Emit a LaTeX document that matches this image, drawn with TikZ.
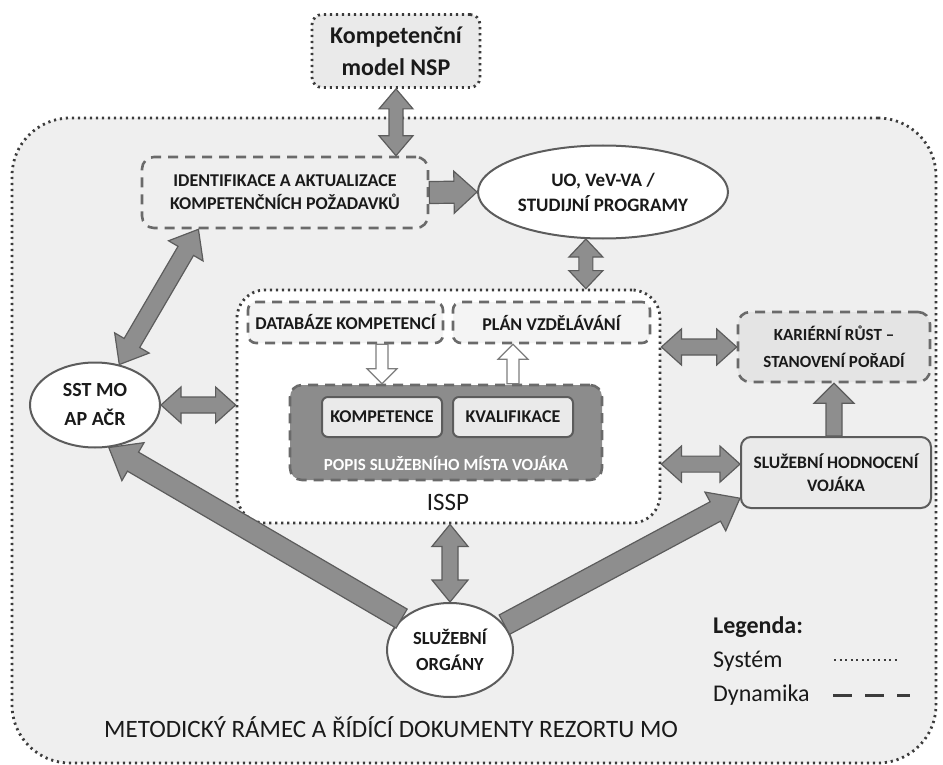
\documentclass[tikz,border=0pt]{standalone}
\usepackage{fontspec}
\setmainfont{Carlito}
\usetikzlibrary{calc,shapes.geometric}
\definecolor{bgc}{HTML}{EFEFEF}
\definecolor{boxg}{HTML}{EAEAEA}
\definecolor{karg}{HTML}{E4E4E4}
\definecolor{dbg}{HTML}{F4F4F4}
\definecolor{popg}{HTML}{8C8C8C}
\definecolor{arrf}{HTML}{8E8E8E}
\definecolor{arrd}{HTML}{5C5C5C}
\definecolor{lnc}{HTML}{3C3C3C}
\definecolor{dsc}{HTML}{6A6A6A}
\definecolor{txc}{HTML}{1A1A1A}

\newcommand\DArrow[6][garrow]{%
 \coordinate (aS) at (#2); \coordinate (aE) at (#3);
 \coordinate (aH1) at ($(aS)!#6!(aE)$);
 \coordinate (aH2) at ($(aE)!#6!(aS)$);
 \path[#1] (aS) -- ($(aH1)!#5!90:(aE)$) -- ($(aH1)!#4!90:(aE)$) -- ($(aH2)!#4!-90:(aS)$) -- ($(aH2)!#5!-90:(aS)$) -- (aE) -- ($(aH2)!#5!90:(aS)$) -- ($(aH2)!#4!90:(aS)$) -- ($(aH1)!#4!-90:(aE)$) -- ($(aH1)!#5!-90:(aE)$) -- cycle;
}
\newcommand\SArrow[6][garrow]{%
 \coordinate (aS) at (#2); \coordinate (aE) at (#3);
 \coordinate (aH) at ($(aE)!#6!(aS)$);
 \path[#1] ($(aS)!#4!90:(aE)$) -- ($(aH)!#4!-90:(aS)$) -- ($(aH)!#5!-90:(aS)$) -- (aE) -- ($(aH)!#5!90:(aS)$) -- ($(aH)!#4!90:(aS)$) -- ($(aS)!#4!-90:(aE)$) -- cycle;
}

\begin{document}
\begin{tikzpicture}[x=1pt,y=-1pt,
  every node/.style={text=txc, align=center, inner sep=0pt},
  sysline/.style={draw=lnc, line width=2.8pt, dash pattern=on 2.2pt off 3.8pt},
  dynline/.style={draw=dsc, line width=2.6pt, dash pattern=on 10pt off 7pt},
  sysbox/.style={rectangle, sysline},
  dynbox/.style={rectangle, dynline},
  solbox/.style={rectangle, draw=arrd, line width=2pt},
  oval/.style={ellipse, draw=arrd, line width=2pt, fill=white},
  garrow/.style={fill=arrf, draw=arrd, line width=1.2pt, line join=miter},
  harrow/.style={fill=white, draw=arrd!80, line width=1.2pt, line join=miter},
]
\useasboundingbox (0,0) rectangle (943,765);

% outer frame
\node[sysbox, fill=bgc, rounded corners=58pt, minimum width=924pt, minimum height=645pt] (frame) at (474,440.5) {};

% top box
\node[sysbox, fill=boxg, rounded corners=10pt, minimum width=168pt, minimum height=73pt,
  font=\fontsize{24}{32}\selectfont\bfseries] (nsp) at (396,51) {Kompetenční\\model NSP};

% identifikace
\node[dynbox, fill=bgc, rounded corners=12pt, minimum width=286pt, minimum height=71pt,
  font=\fontsize{18}{23}\selectfont\bfseries] (ident) at (285,192.5) {IDENTIFIKACE A AKTUALIZACE\\KOMPETENČNÍCH POŽADAVKŮ};

% UO ellipse
\node[oval, minimum width=250pt, minimum height=93pt,
  font=\fontsize{19}{25}\selectfont\bfseries] (uo) at (603,192) {UO, VeV-VA /\\STUDIJNÍ PROGRAMY};

% ISSP
\node[sysbox, fill=white, rounded corners=28pt, minimum width=423pt, minimum height=233pt] (issp) at (448.5,406.5) {};
\node[font=\fontsize{25}{25}\selectfont] (issplabel) at (448,502) {ISSP};

\node[dynbox, fill=dbg, rounded corners=8pt, minimum width=195pt, minimum height=41pt,
  font=\fontsize{18}{18}\selectfont\bfseries] (db) at (345.5,322.5) {DATABÁZE KOMPETENCÍ};
\node[dynbox, fill=dbg, rounded corners=8pt, minimum width=197pt, minimum height=41pt,
  font=\fontsize{18}{18}\selectfont\bfseries] (plan) at (551.5,322.5) {PLÁN VZDĚLÁVÁNÍ};

\node[rectangle, fill=popg, draw=dsc, line width=2.6pt, dash pattern=on 10pt off 7pt, rounded corners=12pt,
  minimum width=312pt, minimum height=95pt] (popis) at (446,432.5) {};
\node[solbox, fill=boxg, rounded corners=6pt, minimum width=120pt, minimum height=40pt,
  font=\fontsize{18}{18}\selectfont\bfseries] (komp) at (382,417) {KOMPETENCE};
\node[solbox, fill=boxg, rounded corners=6pt, minimum width=120pt, minimum height=40pt,
  font=\fontsize{18}{18}\selectfont\bfseries] (kval) at (513,417) {KVALIFIKACE};
\node[text=white, font=\fontsize{17}{17}\selectfont\bfseries] (popislabel) at (446,463) {POPIS SLUŽEBNÍHO MÍSTA VOJÁKA};

% SST
\node[oval, minimum width=130pt, minimum height=85pt,
  font=\fontsize{20}{29}\selectfont\bfseries] (sst) at (95,405) {SST MO\\AP AČR};

% right boxes
\node[dynbox, fill=karg, rounded corners=12pt, minimum width=192pt, minimum height=70pt,
  font=\fontsize{17}{27}\selectfont\bfseries] (kar) at (834,347) {KARIÉRNÍ RŮST –\\STANOVENÍ POŘADÍ};
\node[solbox, fill=boxg, rounded corners=10pt, minimum width=190pt, minimum height=71pt,
  font=\fontsize{17.5}{23}\selectfont\bfseries] (hod) at (836,472.5) {SLUŽEBNÍ HODNOCENÍ\\VOJÁKA};

% sluzebni organy
\node[oval, minimum width=126pt, minimum height=94pt,
  font=\fontsize{18.5}{26}\selectfont\bfseries] (org) at (450,650) {SLUŽEBNÍ\\ORGÁNY};

% legend
\node[anchor=west, font=\fontsize{24}{24}\selectfont\bfseries] (leg) at (713,627) {Legenda:};
\node[anchor=west, font=\fontsize{24}{24}\selectfont] (legsys) at (713,661) {Systém};
\node[anchor=west, font=\fontsize{24}{24}\selectfont] (legdyn) at (713,695) {Dynamika};
\coordinate (sysA) at (834,660); \coordinate (sysB) at (898,660);
\coordinate (dynA) at (833,695); \coordinate (dynB) at (910,695);
\draw[sysline, line width=2.4pt, dash pattern=on 2pt off 3.5pt] (sysA) -- (sysB);
\draw[draw=lnc, line width=3pt, dash pattern=on 19pt off 13pt] (dynA) -- (dynB);

% bottom text
\node[anchor=west, font=\fontsize{25}{25}\selectfont] (metod) at (104,727) {METODICKÝ RÁMEC A ŘÍDÍCÍ DOKUMENTY REZORTU MO};

% connectors
\DArrow{nsp.south}{nsp.south |- ident.north}{7pt}{17pt}{20pt}
\SArrow{ident.east}{uo.west}{11pt}{21pt}{23pt}
\DArrow{uo.250}{uo.250 |- issp.north}{7pt}{17pt}{18pt}
\DArrow{sst.east}{sst.east -| issp.west}{8pt}{18pt}{20pt}
\DArrow{$(ident.south west)!0.2!(ident.south east)$}{sst.59}{9pt}{20pt}{25pt}
\SArrow{org.147}{sst.-72}{11pt}{22pt}{28pt}
\SArrow{org.25}{hod.-165}{11pt}{22pt}{28pt}
\DArrow{kar.west}{kar.west -| issp.east}{8pt}{18pt}{20pt}
\DArrow{hod.175}{hod.175 -| issp.east}{8pt}{18pt}{20pt}
\SArrow{kar.south |- hod.north}{kar.south}{8pt}{20pt}{20pt}
\DArrow{org.north}{org.north |- issp.south}{8pt}{18pt}{22pt}
\SArrow[harrow]{komp.north |- db.south}{komp.north |- popis.north}{6pt}{15pt}{15pt}
\SArrow[harrow]{kval.north |- popis.north}{kval.north |- plan.south}{6pt}{15pt}{15pt}
\end{tikzpicture}
\end{document}
